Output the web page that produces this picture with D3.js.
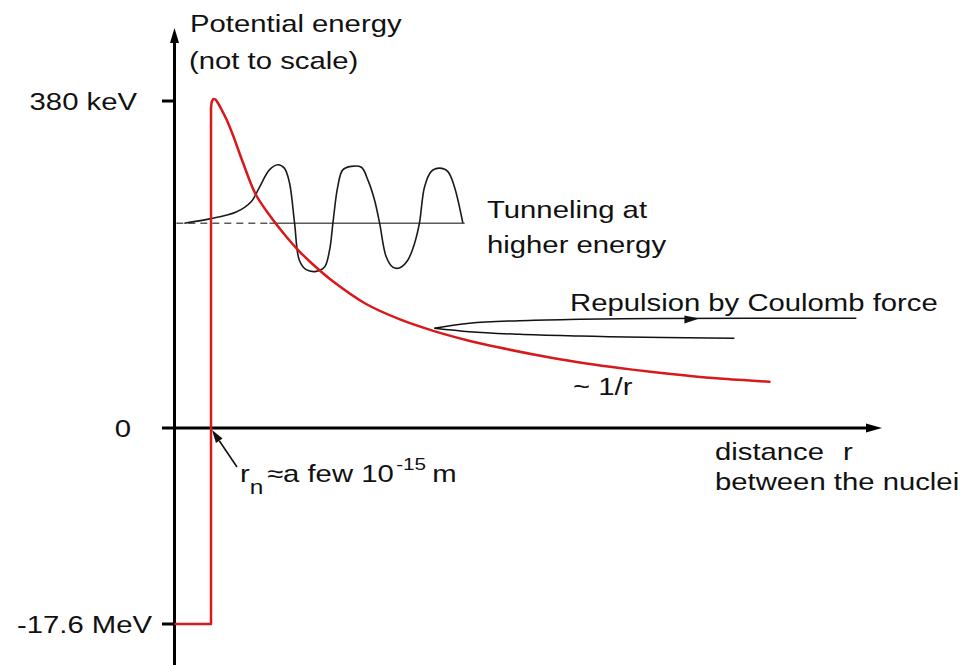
<!DOCTYPE html>
<html>
<head>
<meta charset="utf-8">
<script src="https://cdn.jsdelivr.net/npm/d3@7"></script>
<style>
  html, body { margin: 0; padding: 0; background: #fff; }
  svg { display: block; }
  text { font-family: "Liberation Sans", Arial, Helvetica, sans-serif; fill: #111; }
</style>
</head>
<body>
<svg id="chart" width="967" height="665"></svg>
<script>
// ---------------- data (distance in units of r_n, energy in keV; not to scale) ----------------
const rN = 1.0;
const wellDepth = -17600;                 // keV
const energyTicks = [380, 0, -17600];
const energyTickLabels = ["380 keV", "0", "-17.6 MeV"];

// nuclear well (step) : distance, energy
const wellX = [0, 1.0, 1.0];
const wellE = [-17600, -17600, 371.9];

// Coulomb barrier ~ 1/r
const barrierX = [1.00, 1.03, 1.07, 1.12, 1.19, 1.28, 1.42, 1.60, 1.87, 2.22, 2.60, 3.07, 3.42, 3.78, 4.33, 5.25, 6.16, 7.07, 7.99, 8.90, 10.36, 11.28, 12.19, 13.10, 14.02, 14.93, 16.30];
const barrierE = [371.9, 380.0, 382.3, 381.7, 377.7, 370.7, 359.1, 340.5, 309.1, 271.9, 247.5, 222.0, 205.3, 190.6, 170.8, 144.1, 126.5, 113.2, 102.3, 93.5, 81.3, 75.0, 69.7, 65.1, 61.0, 57.5, 53.8];

// tunneling wave function (drawn around the incident energy)
const tunnelEnergy = 238;
const tunnelStart = 0.0, tunnelTurn = 2.6, tunnelEnd = 7.95;
const waveX = [0.27, 0.96, 1.69, 2.10, 2.33, 2.60, 2.83, 3.01, 3.15, 3.29, 3.42, 3.61, 3.88, 4.11, 4.25, 4.34, 4.47, 4.61, 4.84, 5.12, 5.30, 5.48, 5.62, 5.80, 5.98, 6.16, 6.39, 6.58, 6.71, 6.85, 7.03, 7.26, 7.49, 7.67, 7.90];
const waveE = [238, 243, 251, 263, 280, 300, 306, 302, 285, 238, 195, 184, 182, 187, 207, 238, 280, 300, 304, 303, 288, 265, 238, 199, 187, 186, 195, 215, 238, 280, 298, 302, 298, 280, 238];

// classical repulsion trajectory (incoming lower branch, outgoing upper branch)
const lowerX = [7.12, 8.08, 9.45, 11.10, 15.34];
const lowerE = [115.9, 111.9, 108.9, 106.9, 104.2];
const upperX = [7.12, 8.08, 9.45, 11.10, 13.20, 18.68];
const upperE = [115.9, 121.7, 124.7, 126.3, 127.3, 127.5];
const repulsionArrowX = 14.38;

// ---------------- drawing ----------------
const svg = d3.select("#chart");
const SX = 1.22;        // horizontal stretch of the lettering
const FS = 24;

const x = d3.scaleLinear().domain([0, 20]).range([174.5, 904.5]);
const y = d3.scaleLinear().domain([-17600, 0, 380]).range([624, 428, 101]);

const zip = (xs, ys) => xs.map((v, i) => [v, ys[i]]);
const lineLin = d3.line().x(d => x(d[0])).y(d => y(d[1]));
const lineMono = d3.line().x(d => x(d[0])).y(d => y(d[1])).curve(d3.curveMonotoneX);
const lineSmooth = d3.line().x(d => x(d[0])).y(d => y(d[1])).curve(d3.curveCatmullRom.alpha(0.5));

function label(px, py, str, anchor = "start", size = FS) {
  return svg.append("text")
    .attr("transform", `translate(${px},${py}) scale(${SX},1)`)
    .attr("text-anchor", anchor)
    .attr("font-size", size)
    .text(str);
}

// axes
const x0 = x(0), y0 = y(0);
const yTop = 28, xEnd = 882;
svg.append("line").attr("x1", x0).attr("x2", x0).attr("y1", 665).attr("y2", yTop + 12)
  .attr("stroke", "#000").attr("stroke-width", 3);
svg.append("path").attr("d", `M${x0},${yTop} L${x0 - 4.5},${yTop + 15} L${x0 + 4.5},${yTop + 15} Z`).attr("fill", "#000");
svg.append("line").attr("x1", 162).attr("x2", xEnd - 12).attr("y1", y0).attr("y2", y0)
  .attr("stroke", "#000").attr("stroke-width", 3);
svg.append("path").attr("d", `M${xEnd},${y0} L${xEnd - 16},${y0 - 4.5} L${xEnd - 16},${y0 + 4.5} Z`).attr("fill", "#000");

// ticks + tick labels
energyTicks.forEach((t, i) => {
  if (t !== 0) {
    svg.append("line").attr("x1", 162).attr("x2", x0).attr("y1", y(t)).attr("y2", y(t))
      .attr("stroke", "#000").attr("stroke-width", 3);
  }
  const lx = t === 0 ? 131 : (t > 0 ? 137 : 152);
  label(lx, y(t) + 8.5, energyTickLabels[i], "end");
});

// axis titles
label(190, 32, "Potential energy");
label(189, 69, "(not to scale)");
label(715, 460, "distance");
label(843, 460, "r");
label(715, 490, "between the nuclei");

// incident energy level (dashed inside barrier, solid outside)
svg.append("path").attr("d", lineLin([[tunnelStart + 0.05, tunnelEnergy], [tunnelTurn, tunnelEnergy]]))
  .attr("fill", "none").attr("stroke", "#5a5a5a").attr("stroke-width", 1.6).attr("stroke-dasharray", "7,5");
svg.append("path").attr("d", lineLin([[tunnelTurn, tunnelEnergy], [tunnelEnd, tunnelEnergy]]))
  .attr("fill", "none").attr("stroke", "#5a5a5a").attr("stroke-width", 1.6);

// wave function
svg.append("path").attr("d", lineSmooth(zip(waveX, waveE)))
  .attr("fill", "none").attr("stroke", "#1a1a1a").attr("stroke-width", 1.6).attr("stroke-linejoin", "round");

// repulsion trajectory
svg.append("path").attr("d", lineMono(zip(lowerX, lowerE)))
  .attr("fill", "none").attr("stroke", "#111").attr("stroke-width", 1.5);
svg.append("path").attr("d", lineMono(zip(upperX, upperE)))
  .attr("fill", "none").attr("stroke", "#111").attr("stroke-width", 1.5);
{
  const ax = x(repulsionArrowX), ay = y(127.2);
  svg.append("path").attr("d", `M${ax},${ay} L${ax - 15},${ay - 3} L${ax - 15},${ay + 5} Z`).attr("fill", "#111");
}

// potential: well + Coulomb barrier
const red = "#d7191c";
svg.append("path").attr("d", lineLin(zip(wellX, wellE)))
  .attr("fill", "none").attr("stroke", red).attr("stroke-width", 2.5).attr("stroke-linejoin", "round");
svg.append("path").attr("d", lineSmooth(zip(barrierX, barrierE)))
  .attr("fill", "none").attr("stroke", red).attr("stroke-width", 2.5).attr("stroke-linecap", "round");

// labels on the plot
label(487, 218, "Tunneling at");
label(487, 253, "higher energy");
label(570, 311, "Repulsion by Coulomb force");
label(573, 395, "~ 1/r");

// r_n pointer
{
  const tx = x(rN) + 1, ty = y0 + 2;
  const sx = tx + 25, sy = ty + 37;
  const ang = Math.atan2(ty - sy, tx - sx);
  const L = 13, W = 4;
  const bx = tx - L * Math.cos(ang), by = ty - L * Math.sin(ang);
  svg.append("line").attr("x1", sx).attr("y1", sy).attr("x2", bx).attr("y2", by)
    .attr("stroke", "#111").attr("stroke-width", 1.6);
  svg.append("path").attr("d",
    `M${tx},${ty} L${bx + W * Math.sin(ang)},${by - W * Math.cos(ang)} L${bx - W * Math.sin(ang)},${by + W * Math.cos(ang)} Z`)
    .attr("fill", "#111");
}
{
  const t = svg.append("text")
    .attr("transform", `translate(240,482) scale(${SX},1)`)
    .attr("font-size", FS);
  t.append("tspan").text("r");
  t.append("tspan").attr("dy", 12).attr("font-size", 20).text("n");
  t.append("tspan").attr("dy", -12).attr("dx", 3).text("≈a few 10");
  t.append("tspan").attr("dy", -12).attr("dx", 2).attr("font-size", 17).text("-15");
  t.append("tspan").attr("dy", 12).attr("dx", 5).text("m");
}
</script>
</body>
</html>
